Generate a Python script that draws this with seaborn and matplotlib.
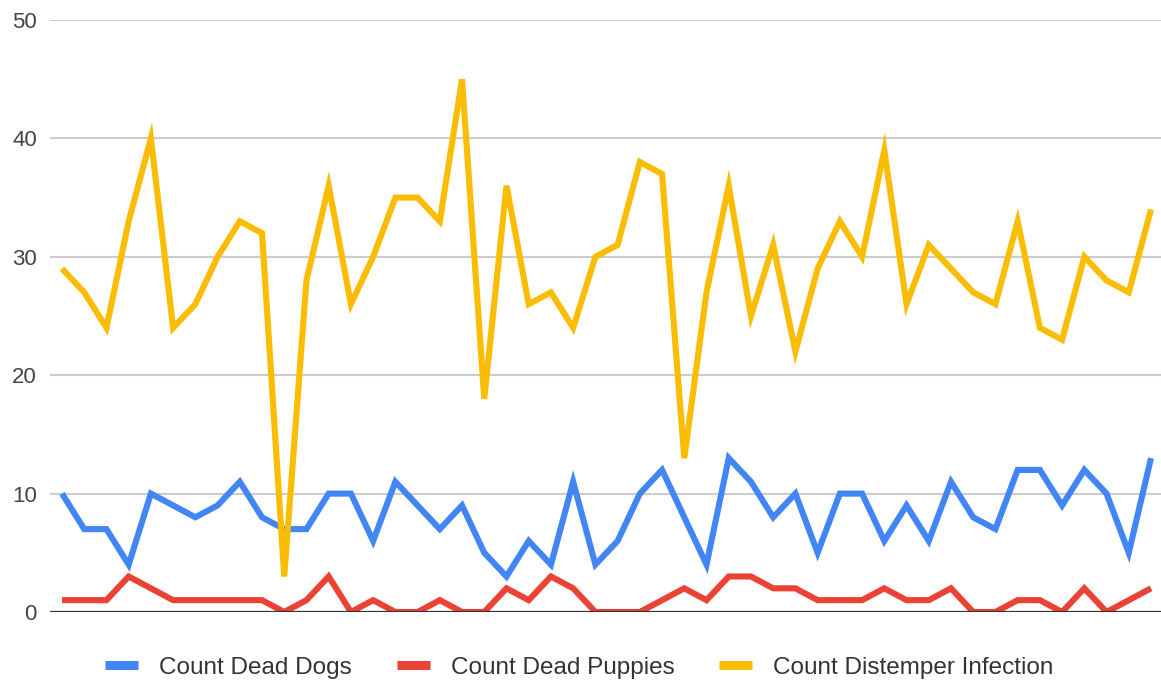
import matplotlib
matplotlib.use("Agg")
import matplotlib.pyplot as plt
import numpy as np
import pandas as pd
import seaborn as sns
from matplotlib.lines import Line2D

# values, one per week
dead_dogs = [10, 7, 7, 4, 10, 9, 8, 9, 11, 8,
             7, 7, 10, 10, 6, 11, 9, 7, 9, 5,
             3, 6, 4, 11, 4, 6, 10, 12, 8, 4,
             13, 11, 8, 10, 5, 10, 10, 6, 9, 6,
             11, 8, 7, 12, 12, 9, 12, 10, 5, 13]
dead_puppies = [1, 1, 1, 3, 2, 1, 1, 1, 1, 1,
                0, 1, 3, 0, 1, 0, 0, 1, 0, 0,
                2, 1, 3, 2, 0, 0, 0, 1, 2, 1,
                3, 3, 2, 2, 1, 1, 1, 2, 1, 1,
                2, 0, 0, 1, 1, 0, 2, 0, 1, 2]
distemper = [29, 27, 24, 33, 40, 24, 26, 30, 33, 32,
             3, 28, 36, 26, 30, 35, 35, 33, 45, 18,
             36, 26, 27, 24, 30, 31, 38, 37, 13, 27,
             36, 25, 31, 22, 29, 33, 30, 39, 26, 31,
             29, 27, 26, 33, 24, 23, 30, 28, 27, 34]

series_names = ["Count Dead Dogs", "Count Dead Puppies", "Count Distemper Infection"]
colors = ["#4285F4", "#EA4335", "#FBBC04"]
y_ticks = [0, 10, 20, 30, 40, 50]

n = len(dead_dogs)
df = pd.DataFrame({
    "week": np.tile(np.arange(n), 3),
    "count": dead_dogs + dead_puppies + distemper,
    "series": np.repeat(series_names, n),
})

sns.set_theme(style="white")
plt.rcParams["font.family"] = ["Liberation Sans", "DejaVu Sans"]

fig = plt.figure(figsize=(11.61, 6.87), dpi=100)
ax = fig.add_axes([50 / 1161, 1 - 612 / 687, 1111 / 1161, 592 / 687])

sns.lineplot(data=df, x="week", y="count", hue="series",
             hue_order=series_names, palette=colors,
             linewidth=4.4, legend=False, ax=ax)
for ln in ax.lines:
    ln.set_solid_joinstyle("miter")
    ln.set_solid_capstyle("butt")

ax.set_xlim(-0.54, n - 1 + 0.45)
ax.set_ylim(0, 50)
ax.set_yticks(y_ticks)
ax.set_yticklabels([str(t) for t in y_ticks], fontsize=16, color="#444444")
ax.set_xticks([])
ax.set_xlabel("")
ax.set_ylabel("")
ax.tick_params(axis="y", length=0, pad=9.5)
for t in y_ticks[1:]:
    ax.axhline(t, color="#cccccc", linewidth=1.5, zorder=0)
ax.axhline(0, color="#333333", linewidth=1.6, zorder=5)
for s in ax.spines.values():
    s.set_visible(False)

handles = [Line2D([0], [0], color=c, linewidth=6.5, solid_capstyle="butt") for c in colors]
fig.legend(handles, series_names, loc="center", bbox_to_anchor=(0.499, 0.028),
           ncol=3, frameon=False, fontsize=17.5, handlelength=1.36,
           handletextpad=0.86, columnspacing=1.85, labelcolor="#333333")

fig.savefig("out.png", dpi=100)
